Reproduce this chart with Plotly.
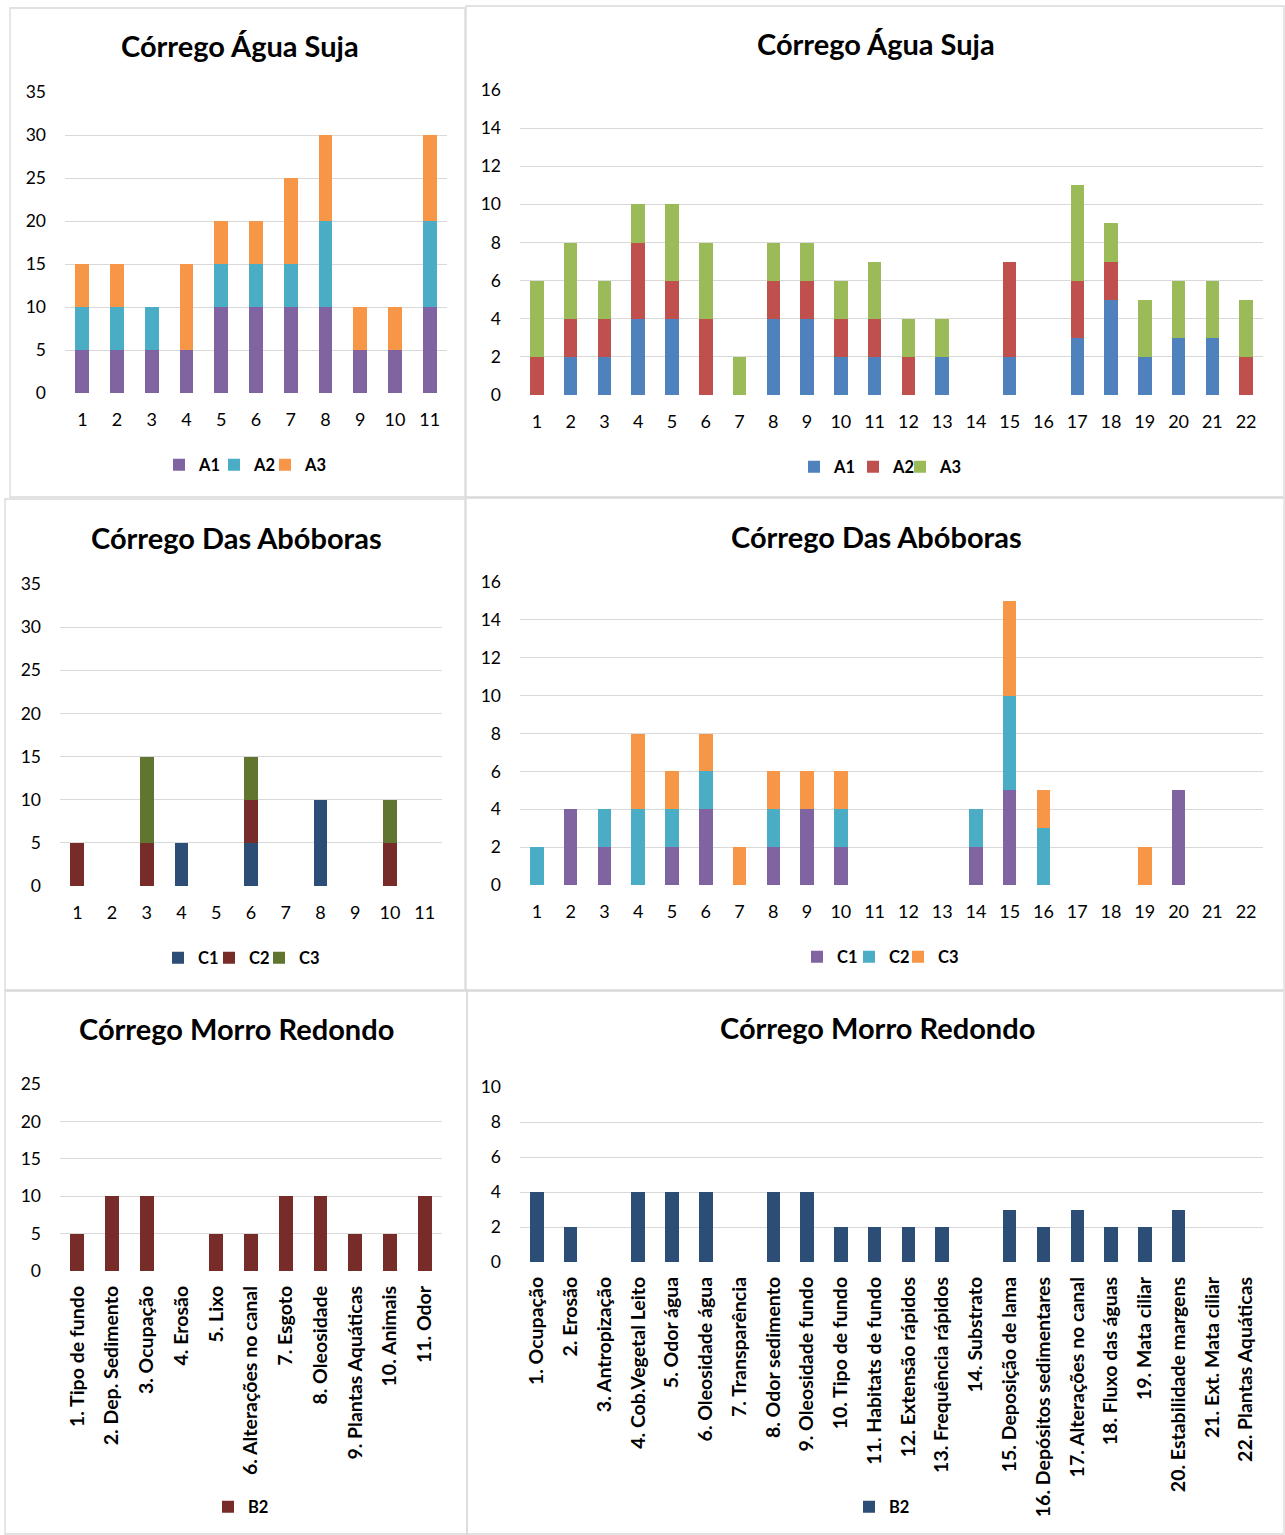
import plotly.graph_objects as go

W, H = 1285, 1535

# ---------------- data ----------------
cats11 = [str(i) for i in range(1, 12)]
cats22 = [str(i) for i in range(1, 23)]

# Panel 1 - Córrego Água Suja (11 params)
p1_A1 = [5, 5, 5, 5, 10, 10, 10, 10, 5, 5, 10]
p1_A2 = [5, 5, 5, 0, 5, 5, 5, 10, 0, 0, 10]
p1_A3 = [5, 5, 0, 10, 5, 5, 10, 10, 5, 5, 10]

# Panel 2 - Córrego Água Suja (22 params)
p2_A1 = [0, 2, 2, 4, 4, 0, 0, 4, 4, 2, 2, 0, 2, 0, 2, 0, 3, 5, 2, 3, 3, 0]
p2_A2 = [2, 2, 2, 4, 2, 4, 0, 2, 2, 2, 2, 2, 0, 0, 5, 0, 3, 2, 0, 0, 0, 2]
p2_A3 = [4, 4, 2, 2, 4, 4, 2, 2, 2, 2, 3, 2, 2, 0, 0, 0, 5, 2, 3, 3, 3, 3]

# Panel 3 - Córrego Das Abóboras (11 params)
p3_C1 = [0, 0, 0, 5, 0, 5, 0, 10, 0, 0, 0]
p3_C2 = [5, 0, 5, 0, 0, 5, 0, 0, 0, 5, 0]
p3_C3 = [0, 0, 10, 0, 0, 5, 0, 0, 0, 5, 0]

# Panel 4 - Córrego Das Abóboras (22 params)
p4_C1 = [0, 4, 2, 0, 2, 4, 0, 2, 4, 2, 0, 0, 0, 2, 5, 0, 0, 0, 0, 5, 0, 0]
p4_C2 = [2, 0, 2, 4, 2, 2, 0, 2, 0, 2, 0, 0, 0, 2, 5, 3, 0, 0, 0, 0, 0, 0]
p4_C3 = [0, 0, 0, 4, 2, 2, 2, 2, 2, 2, 0, 0, 0, 0, 5, 2, 0, 0, 2, 0, 0, 0]

# Panel 5 - Córrego Morro Redondo (11 params)
p5_labels = ["1. Tipo de fundo", "2. Dep. Sedimento", "3. Ocupação", "4. Erosão",
             "5. Lixo", "6. Alterações no canal", "7. Esgoto", "8. Oleosidade",
             "9. Plantas Aquáticas", "10. Animais", "11. Odor"]
p5_B2 = [5, 10, 10, 0, 5, 5, 10, 10, 5, 5, 10]

# Panel 6 - Córrego Morro Redondo (22 params)
p6_labels = ["1. Ocupação", "2. Erosão", "3. Antropização", "4. Cob.Vegetal Leito",
             "5. Odor água", "6. Oleosidade água", "7. Transparência",
             "8. Odor sedimento", "9. Oleosidade fundo", "10. Tipo de fundo",
             "11. Habitats de fundo", "12. Extensão rápidos", "13. Frequência rápidos",
             "14. Substrato", "15. Deposição de lama", "16. Depósitos sedimentares",
             "17. Alterações no canal", "18. Fluxo das águas", "19. Mata ciliar",
             "20. Estabilidade margens", "21. Ext. Mata ciliar", "22. Plantas Aquáticas"]
p6_B2 = [4, 2, 0, 4, 4, 4, 0, 4, 4, 2, 2, 2, 2, 0, 3, 2, 3, 2, 2, 3, 0, 0]

titles = ["Córrego Água Suja", "Córrego Água Suja",
          "Córrego Das Abóboras", "Córrego Das Abóboras",
          "Córrego Morro Redondo", "Córrego Morro Redondo"]

# ---------------- helpers ----------------
FONT = "Lato"
def fx(x):
    return x / W
def fy(y):
    return 1 - y / H

fig = go.Figure()

# lsw: left edge (px) of each legend swatch, ly: legend row centre (px)
panels = [
    dict(x0=65, x1=447, yt=92, yb=393, ymax=35, dt=5, tx=240, ty=46, lsw=[173, 228, 279], ly=465, b=(10, 8, 465, 497)),
    dict(x0=520, x1=1263, yt=90, yb=395, ymax=16, dt=2, tx=876, ty=44, lsw=[808, 867, 914], ly=467, b=(466, 6, 1284, 497)),
    dict(x0=60, x1=442, yt=584, yb=886, ymax=35, dt=5, tx=236, ty=537, lsw=[172, 223, 273], ly=958, b=(5, 499, 465, 990)),
    dict(x0=520, x1=1263, yt=582, yb=885, ymax=16, dt=2, tx=876, ty=536, lsw=[811, 863, 912], ly=957, b=(466, 498, 1284, 990)),
    dict(x0=60, x1=442, yt=1084, yb=1271, ymax=25, dt=5, tx=236, ty=1028, lsw=[222], ly=1507, b=(5, 991, 467, 1534)),
    dict(x0=520, x1=1263, yt=1087, yb=1262, ymax=10, dt=2, tx=877, ty=1027, lsw=[863], ly=1507, b=(467, 991, 1284, 1534)),
]

series = [
    [("A1", p1_A1, "#8064A2"), ("A2", p1_A2, "#4BACC6"), ("A3", p1_A3, "#F79646")],
    [("A1", p2_A1, "#4F81BD"), ("A2", p2_A2, "#C0504D"), ("A3", p2_A3, "#9BBB59")],
    [("C1", p3_C1, "#2C4D75"), ("C2", p3_C2, "#772C2A"), ("C3", p3_C3, "#5F7530")],
    [("C1", p4_C1, "#8064A2"), ("C2", p4_C2, "#4BACC6"), ("C3", p4_C3, "#F79646")],
    [("B2", p5_B2, "#772C2A")],
    [("B2", p6_B2, "#2C4D75")],
]
xcats = [cats11, cats22, cats11, cats22, p5_labels, p6_labels]

SW_OFF = 14  # px between legend box left and swatch left
layout_upd = {}
annotations = []
shapes = []
leg_no = 0
for i, (p, ser, cats) in enumerate(zip(panels, series, xcats)):
    n = i + 1
    xa = "x" if n == 1 else f"x{n}"
    ya = "y" if n == 1 else f"y{n}"
    for (name, vals, col), swx in zip(ser, p["lsw"]):
        leg_no += 1
        lg = "legend" if leg_no == 1 else f"legend{leg_no}"
        fig.add_trace(go.Bar(x=cats, y=vals, name=name, marker=dict(color=col, line=dict(width=0)),
                             xaxis=xa, yaxis=ya, legend=lg, showlegend=True))
        layout_upd[lg] = dict(
            orientation="h", x=fx(swx - SW_OFF), y=fy(p["ly"]), xanchor="left", yanchor="middle",
            font=dict(family=FONT, size=16.5, color="#000000", weight="bold"),
            bgcolor="rgba(0,0,0,0)", itemwidth=30, itemclick=False,
        )
    rotated = n >= 5
    layout_upd[f"xaxis{'' if n == 1 else n}"] = dict(
        domain=[fx(p["x0"]), fx(p["x1"])], anchor=ya, type="category",
        showgrid=False, zeroline=False, showline=False, ticks="",
        tickangle=-90 if rotated else 0,
        ticklabelstandoff=10 if rotated else 14,
        tickfont=dict(family=FONT, size=19.5 if rotated else 18, color="#000000",
                      weight="bold" if rotated else "normal"),
        automargin=False,
    )
    layout_upd[f"yaxis{'' if n == 1 else n}"] = dict(
        domain=[fy(p["yb"]), fy(p["yt"])], anchor=xa, range=[0, p["ymax"]],
        dtick=p["dt"], tick0=0, showgrid=True, gridcolor="#D9D9D9", gridwidth=1.3,
        zeroline=False, showline=False, ticks="", ticklabelstandoff=18,
        tickfont=dict(family=FONT, size=17.5, color="#000000"),
        automargin=False,
    )
    annotations.append(dict(text=f"<b>{titles[i]}</b>", x=fx(p["tx"]), y=fy(p["ty"]),
                            xref="paper", yref="paper", showarrow=False,
                            xanchor="center", yanchor="middle",
                            font=dict(family=FONT, size=29, color="#000000")))
    bx0, by0, bx1, by1 = p["b"]
    shapes.append(dict(type="rect", xref="paper", yref="paper",
                       x0=fx(bx0), x1=fx(bx1), y0=fy(by1), y1=fy(by0),
                       line=dict(color="#D9D9D9", width=1.3), fillcolor="rgba(0,0,0,0)"))

fig.update_layout(
    width=W, height=H, margin=dict(l=0, r=0, t=0, b=0, pad=0, autoexpand=False),
    paper_bgcolor="white", plot_bgcolor="white",
    barmode="stack", bargap=0.6,
    annotations=annotations, shapes=shapes,
    font=dict(family=FONT, color="#000000"),
    **layout_upd,
)

post = ("var d=document.getElementById('{plot_id}');"
        "d.style.position='absolute';d.style.top='0px';d.style.left='0px';"
        "document.body.style.margin='0';document.body.style.overflow='hidden';")

fig.write_html("out.html", post_script=post, config={"displayModeBar": False})
